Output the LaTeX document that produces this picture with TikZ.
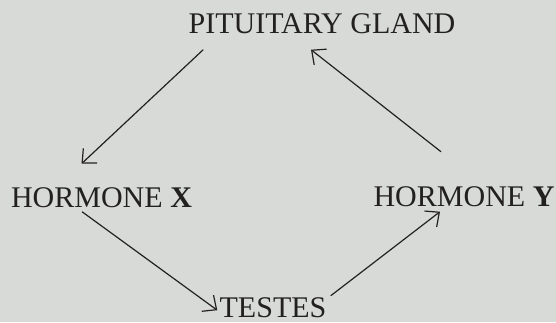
\documentclass[tikz,border=0pt]{standalone}
\usepackage{fontspec}
\setmainfont{Liberation Serif}
\usepackage{xcolor}
\usetikzlibrary{positioning, calc, arrows.meta}
\definecolor{paper}{RGB}{216,218,215}
\definecolor{ink}{RGB}{35,33,32}

\begin{document}
\begin{tikzpicture}[x=0.5pt, y=-0.5pt,
    label/.style={anchor=base, inner sep=0pt, text=ink, font=\fontsize{15}{18}\selectfont},
    flow/.style={draw=ink, line width=0.6pt, -{Straight Barb[length=5.5pt, width=10pt]}}]
  % Background
  \fill[paper] (0,0) rectangle (556,322);
  \useasboundingbox (0,0) rectangle (556,322);

  % Nodes
  \node[label] (pit) at (322,33) {PITUITARY GLAND};
  \node[label] (hx) at (101.5,207) {HORMONE \textbf{X}};
  \node[label] (hy) at (464,206) {HORMONE \textbf{Y}};
  \node[label] (testes) at (273,317) {TESTES};

  % Arrows
  \draw[flow] ($(pit.south west)+(15,16)$) -- ($(hx.north)+(-20,-23)$);
  \draw[flow] ($(hx.south)+(-19.5,4)$) -- ($(testes.west)+(-2,3)$);
  \draw[flow] ($(testes.north east)+(4,-1)$) -- ($(hy.south)+(-24,5)$);
  \draw[flow] ($(hy.north)+(-23,-34)$) -- ($(pit.south)+(-11,16)$);
\end{tikzpicture}
\end{document}
